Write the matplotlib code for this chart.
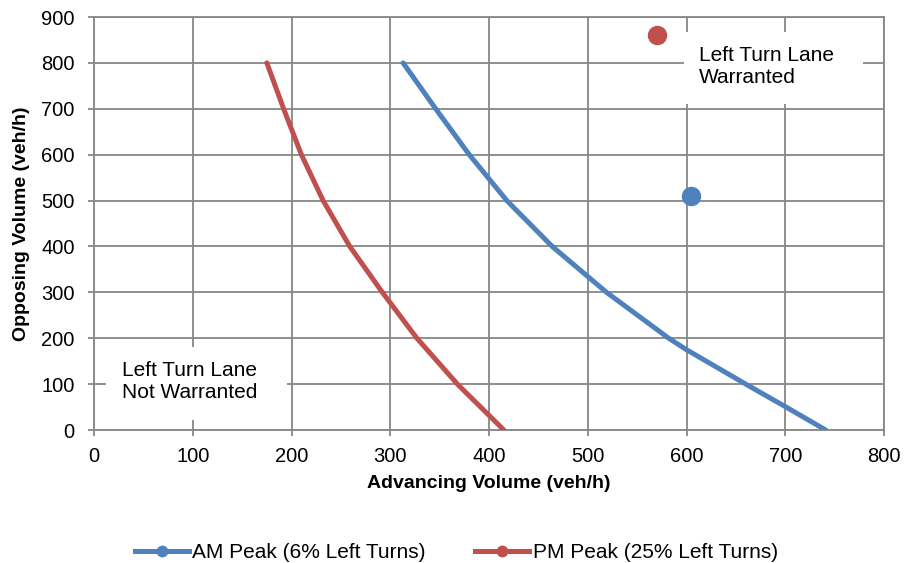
import matplotlib
matplotlib.use("Agg")
import matplotlib.pyplot as plt
from matplotlib.patches import Rectangle

plt.rcParams['font.family'] = ['Liberation Sans', 'DejaVu Sans']

# curves (advancing vs opposing volume, veh/h)
am_opp = [800, 700, 600, 500, 400, 300, 200, 175, 100, 51, 0]
am_adv = [313, 346, 380, 418, 464, 519, 582, 600, 660, 700, 741]
pm_opp = [800, 700, 600, 500, 400, 300, 200, 100, 0]
pm_adv = [175, 192, 210, 232, 259, 292, 327, 368, 415]

# observed points
am_point = (605, 510)
pm_point = (570, 860)

blue = '#4F81BD'
red = '#C0504D'
grid_c = '#878787'

fig = plt.figure(figsize=(9.05, 5.63), dpi=100)
ax = fig.add_axes([0.1039, 0.2362, 0.9768 - 0.1039, 0.9698 - 0.2362])

ax.plot(am_adv, am_opp, color=blue, lw=3.6, solid_capstyle='round', solid_joinstyle='round', zorder=4)
ax.plot(pm_adv, pm_opp, color=red, lw=3.6, solid_capstyle='round', solid_joinstyle='round', zorder=4)
ax.plot([am_point[0]], [am_point[1]], 'o', color=blue, ms=13, zorder=5)
ax.plot([pm_point[0]], [pm_point[1]], 'o', color=red, ms=13, zorder=5)

# legend proxies
ax.plot([], [], color=blue, lw=3.6, marker='o', ms=7.5, label='AM Peak (6% Left Turns)')
ax.plot([], [], color=red, lw=3.6, marker='o', ms=7.5, label='PM Peak (25% Left Turns)')

ax.set_xlim(0, 800)
ax.set_ylim(0, 900)
ax.set_xticks(range(0, 801, 100))
ax.set_yticks(range(0, 901, 100))
ax.grid(True, color=grid_c, lw=1.3)
ax.set_axisbelow(True)
for s in ax.spines.values():
    s.set_color(grid_c)
    s.set_linewidth(1.3)
ax.tick_params(direction='out', length=4, width=1.3, color=grid_c, labelsize=14.5)
ax.tick_params(axis='y', pad=10)
ax.tick_params(axis='x', pad=8)

ax.set_xlabel('Advancing Volume (veh/h)', fontsize=14, fontweight='bold', labelpad=7)
ax.set_ylabel('Opposing Volume (veh/h)', fontsize=14, fontweight='bold', labelpad=8)

# white text boxes over the grid
ax.add_patch(Rectangle((597, 710), 182, 157, facecolor='white', edgecolor='none', zorder=2))
ax.text(613, 792, 'Left Turn Lane\nWarranted', fontsize=15, ha='left', va='center',
        linespacing=1.25, zorder=3)
ax.add_patch(Rectangle((12.6, 22), 182.5, 159, facecolor='white', edgecolor='none', zorder=2))
ax.text(28.5, 106, 'Left Turn Lane\nNot Warranted', fontsize=15, ha='left', va='center',
        linespacing=1.25, zorder=3)

fig.legend(loc='center', bbox_to_anchor=(0.504, 0.018), ncol=2, frameon=False,
           fontsize=15, handlelength=2.6, columnspacing=2.4, handletextpad=0.15)

fig.savefig('out.png', dpi=100)
